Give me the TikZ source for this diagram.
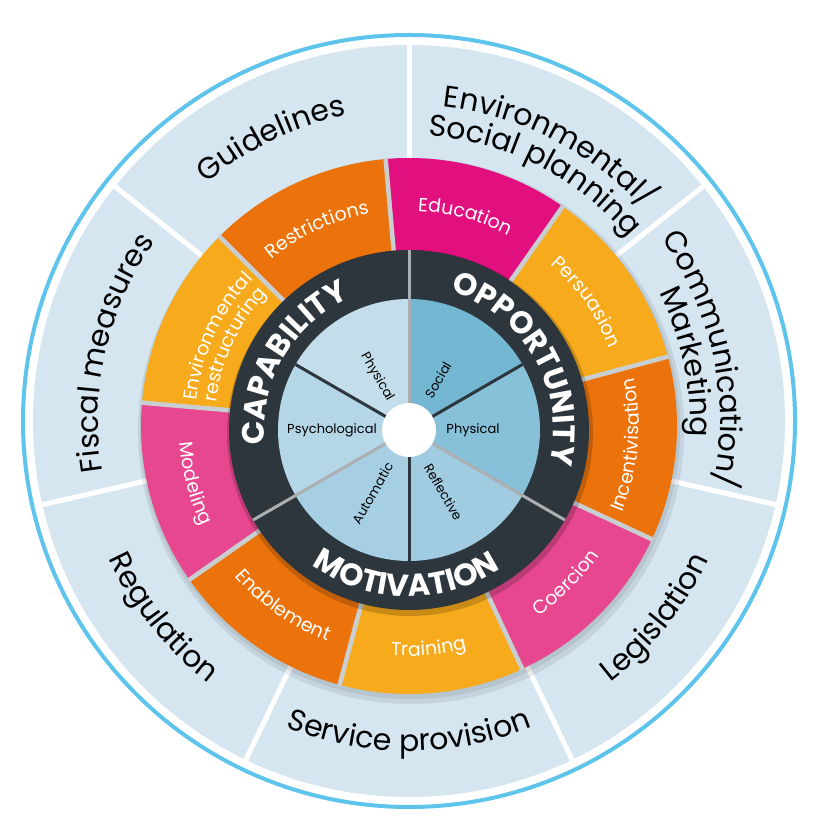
\documentclass[tikz,border=0pt]{standalone}
\usepackage{fontspec}
\setmainfont{Poppins}
\usetikzlibrary{decorations.text,calc}
\definecolor{lightring}{HTML}{D5E6F1}
\definecolor{bluecirc}{HTML}{5EC4EC}
\definecolor{darkring}{HTML}{2C363C}
\definecolor{magentaA}{HTML}{E20F7E}
\definecolor{yellowA}{HTML}{F6AA1C}
\definecolor{orangeA}{HTML}{EC730B}
\definecolor{pinkA}{HTML}{E6478F}
\definecolor{capphys}{HTML}{C3DDEB}
\definecolor{cappsy}{HTML}{B4D6E7}
\definecolor{motaut}{HTML}{A6CFE3}
\definecolor{motref}{HTML}{A0CBE1}
\definecolor{oppphys}{HTML}{87C0D9}
\definecolor{oppsoc}{HTML}{74B7D3}
\definecolor{sepgray}{HTML}{C9CED1}
\definecolor{linegray}{HTML}{ABAFB2}
\newcommand\fOuter{\fontsize{30}{30}\selectfont}
\newcommand\fMid{\fontsize{19}{19}\selectfont}
\newcommand\fCOM{\fontsize{31}{31}\selectfont\bfseries}
\newcommand\fIn{\fontsize{13}{13}\selectfont}
\tikzset{
  inlabel/.style={font=\fIn, text=black, inner sep=0pt},
}
% clockwise arc text (tops outward): center, mid angle, radius, color, font, text
\newcommand\cwText[6]{\path[decorate, decoration={text along path, text={|#5|#6}, text align=center, text color=#4}] ($(#1)+(#2+70:#3)$) arc[start angle=#2+70, end angle=#2-70, radius=#3];}
% counterclockwise arc text (tops inward)
\newcommand\ccwText[6]{\path[decorate, decoration={text along path, text={|#5|#6}, text align=center, text color=#4}] ($(#1)+(#2-70:#3)$) arc[start angle=#2-70, end angle=#2+70, radius=#3];}
\begin{document}
\begin{tikzpicture}[x=1pt,y=1pt]
\useasboundingbox (0,0) rectangle (834,837);
\coordinate (O1) at (409,416);
\coordinate (O2) at (409,411);
\coordinate (O3) at (409,407);
% outer ring
\draw[bluecirc, line width=4] (O1) circle (386);
\fill[lightring] (O1) circle (376);
\foreach \a in {0,...,6}
  \draw[white, line width=5] ($(O1)+(90-\a*51.4286:262)$) -- ($(O1)+(90-\a*51.4286:378)$);
% shadow of coloured ring
\fill[black, opacity=0.08] ($(O2)+(2,-5)$) circle (273);
\fill[black, opacity=0.07] ($(O2)+(1,-3)$) circle (270);
% coloured ring
\foreach \s/\c in {95/magentaA, 55/yellowA, 15/orangeA, -25/pinkA, -65/yellowA, -105/orangeA, -145/pinkA, -185/yellowA, -225/orangeA}
  \fill[\c] (O2) -- ($(O2)+(\s:268)$) arc[start angle=\s, end angle=\s-40, radius=268] -- cycle;
\foreach \s in {95,55,15,-25,-65,-105,-145,-185,-225}
  \draw[sepgray, line width=4.5] ($(O2)+(\s:176)$) -- ($(O2)+(\s:269)$);
% dark ring
\fill[black, opacity=0.18] ($(O3)+(1,-3)$) circle (183);
\fill[darkring] (O3) circle (180);
\foreach \s/\c in {90/capphys,150/cappsy,210/motaut,270/motref,330/oppphys,30/oppsoc}
  \fill[\c] (O3) -- ($(O3)+(\s:131)$) arc[start angle=\s, end angle=\s+60, radius=131] -- cycle;
\foreach \a in {90,210,330}
  \draw[linegray, line width=3] ($(O3)+(\a:20)$) -- ($(O3)+(\a:180)$);
\foreach \a in {30,150,270}
  \draw[darkring, line width=3] ($(O3)+(\a:20)$) -- ($(O3)+(\a:131)$);
\fill[white] (O3) circle (27);
% COM labels
\cwText{O3}{150}{144.5}{white}{\fCOM}{CAPABILITY}
\cwText{O3}{30}{144.5}{white}{\fCOM}{OPPORTUNITY}
\ccwText{O3}{-91}{166.5}{white}{\fCOM}{MOTIVATION}
% inner labels
\node[inlabel, rotate=-60] (cphys) at ($(O3)+(121:62)$) {Physical};
\node[inlabel] (cpsy) at ($(O3)+(180:77)$) {Psychological};
\node[inlabel, rotate=60] (maut) at ($(O3)+(-120:73)$) {Automatic};
\node[inlabel, rotate=-60] (mref) at ($(O3)+(-61:71)$) {Reflective};
\node[inlabel] (ophys) at ($(O3)+(0:64)$) {Physical};
\node[inlabel, rotate=60] (osoc) at ($(O3)+(60:58)$) {Social};
% intervention functions
\cwText{O2}{75}{215}{white}{\fMid}{Education}
\cwText{O2}{35}{215}{white}{\fMid}{Persuasion}
\ccwText{O2}{-5}{230}{white}{\fMid}{Incentivisation}
\ccwText{O2}{-45}{230}{white}{\fMid}{Coercion}
\ccwText{O2}{-85}{230}{white}{\fMid}{Training}
\ccwText{O2}{-125}{230}{white}{\fMid}{Enablement}
\ccwText{O2}{-165}{230}{white}{\fMid}{Modeling}
\cwText{O2}{155}{214}{white}{\fMid}{Environmental}
\cwText{O2}{155}{194}{white}{\fMid}{restructuring}
\cwText{O2}{115}{216}{white}{\fMid}{Restrictions}
% policy categories
\cwText{O1}{116}{312}{black}{\fOuter}{Guidelines}
\cwText{O1}{63}{316}{black}{\fOuter}{Environmental/}
\cwText{O1}{63}{286}{black}{\fOuter}{Social planning}
\cwText{O1}{12}{311}{black}{\fOuter}{Communication/}
\cwText{O1}{12}{281}{black}{\fOuter}{Marketing}
\ccwText{O1}{-38.6}{330}{black}{\fOuter}{Legislation}
\ccwText{O1}{-90}{330}{black}{\fOuter}{Service provision}
\ccwText{O1}{-141.4}{330}{black}{\fOuter}{Regulation}
\cwText{O1}{167}{311}{black}{\fOuter}{Fiscal measures}
\end{tikzpicture}
\end{document}
